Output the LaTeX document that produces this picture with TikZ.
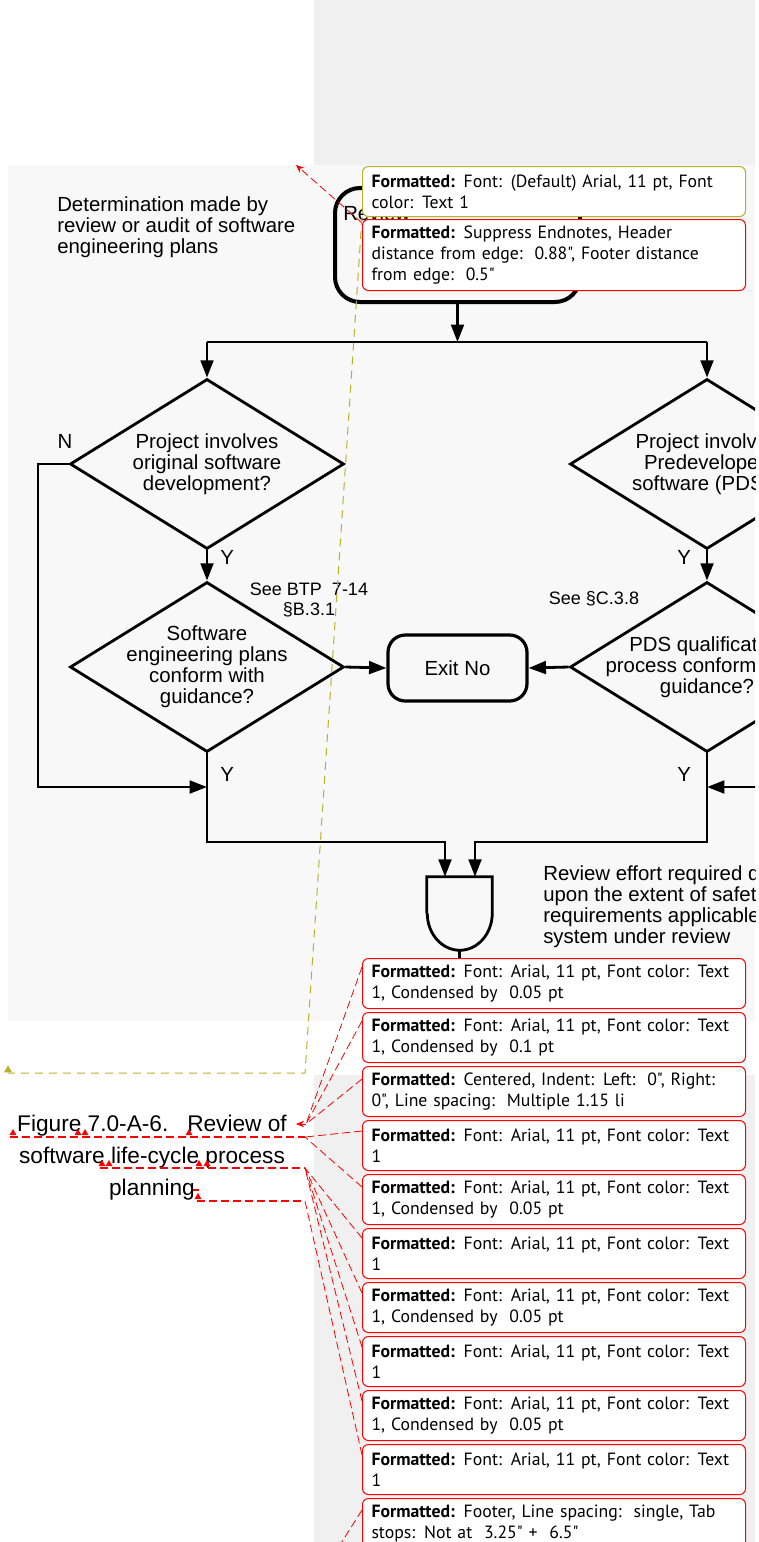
\documentclass[tikz,border=0pt]{standalone}
\usepackage{fontspec}
\setmainfont{Liberation Sans}
\newfontfamily\notefont{PT Sans}
\usetikzlibrary{shapes.geometric,positioning,arrows.meta,calc}
\definecolor{panegray}{RGB}{240,240,240}
\definecolor{figgray}{RGB}{248,248,248}
\definecolor{markred}{RGB}{255,0,0}
\definecolor{markolive}{RGB}{184,178,40}
\newcommand{\fmt}{\textbf{Formatted:} }

\begin{document}
\begin{tikzpicture}[x=0.75pt,y=-0.75pt,>={Triangle[length=13pt,width=9.5pt]},
		flow/.style={line width=2.1pt},
		decision/.style={draw,diamond,line width=2.1pt,inner sep=0pt,minimum width=205.5pt,minimum height=127.5pt},
		endbox/.style={draw,rounded corners=13pt,line width=2.4pt,inner sep=0pt},
		dtext/.style={font=\fontsize{15.3}{15.75}\selectfont,align=center,inner sep=0pt},
		note/.style={font=\fontsize{13.5}{15}\selectfont,align=center,inner sep=0pt},
		balloon/.style={draw=markred,fill=white,rounded corners=4.5pt,line width=0.75pt,minimum width=287.25pt,minimum height=37.5pt,text width=273.75pt,inner xsep=6.75pt,inner ysep=2pt,align=left,font=\notefont\fontsize{13.3}{15.75}\selectfont},
		redlink/.style={draw=markred,dash pattern=on 6pt off 3pt,line width=0.6pt},
		olivelink/.style={draw=markolive,dash pattern=on 6pt off 4.5pt,line width=0.75pt},
		insmark/.style={fill=markred,regular polygon,regular polygon sides=3,inner sep=0pt,minimum size=6pt}]
		\useasboundingbox (0,0) rectangle (759,1542);
		% page and markup pane
		\fill[panegray] (314,0) rectangle (755,165);
		\fill[panegray] (314,1075) rectangle (755,1542);
		\fill[figgray] (8,165) rectangle (755,1021);
		
		\begin{scope}
		\clip (8,165) rectangle (755,1021);
		\node[endbox,rounded corners=18.75pt,line width=3pt,minimum width=183.75pt,minimum height=85.5pt] (r_0) at (457.5,245) {};
		\node[dtext,anchor=base west] (r_0_t) at (343,220) {Review};
		\coordinate (j_0) at (457.5,342);
		
		\node[decision,label={[dtext]center:{Project involves\\original software\\development?}}] (d_1) at (207,464) {};
		\node[decision,label={[dtext]center:{Project involves\\Predeveloped\\software (PDS)?}}] (d_2) at (707,464) {};
		\node[decision,label={[dtext]center:{Software\\engineering plans\\conform with\\guidance?}}] (d_3) at (207,667) {};
		\node[decision,label={[dtext]center:{PDS qualification\\process conforms with\\guidance?}}] (d_4) at (707,667) {};
		\node[endbox,dtext,minimum width=104.25pt,minimum height=49.5pt] (x_0) at (457.5,668) {Exit No};
		\node[minimum width=48.75pt,minimum height=27pt,inner sep=0pt] (g_1) at (459.5,895) {};
		
		\node[dtext,align=left,anchor=north west] (t_det) at (57,196) {Determination made by\\review or audit of software\\engineering plans};
		\node[note] (t_btp) at (309,600) {See BTP\ \ 7-14\\\S B.3.1};
		\node[note] (t_c38) at (594,599) {See \S C.3.8};
		\node[dtext,align=left,anchor=north west] (t_eff) at (543,865) {Review effort required depends\\upon the extent of safety\\requirements applicable to the\\system under review};
		\node[dtext] (n_0) at (65,441) {N};
		
		\path[flow,->] (r_0) edge (j_0);
		\draw[flow] (j_0 -| d_1.north) -- (j_0 -| d_2.north);
		\draw[flow,->] (j_0 -| d_1.north) -- (d_1.north);
		\draw[flow,->] (j_0 -| d_2.north) -- (d_2.north);
		\draw[flow,->] (d_1.south) -- node[dtext,right=9pt,pos=0.25] (y_1) {Y} (d_3.north);
		\draw[flow,->] (d_2.south) -- node[dtext,left=11pt,pos=0.25] (y_2) {Y} (d_4.north);
		\coordinate (n_1) at (38,787);
		\draw[flow,->] (d_1.west) -| (n_1) -- (n_1 -| d_3.south);
		\draw[flow,->] (d_3.east) -- (x_0.west);
		\draw[flow,->] (d_4.west) -- (x_0.east);
		\coordinate (e_1) at (762,787);
		\draw[flow,->] (e_1) -- (e_1 -| d_4.south);
		\coordinate (k_1) at (445,842);
		\coordinate (k_2) at (475,842);
		\draw[flow,->] (d_3.south) |- node[dtext,right=9pt,pos=0.12] (y_3) {Y} (k_1) -- (k_1 |- g_1.north);
		\draw[flow,->] (d_4.south) |- node[dtext,left=11pt,pos=0.12] (y_4) {Y} (k_2) -- (k_2 |- g_1.north);
		% and gate
		\draw[flow] (g_1.south west) -- (g_1.north west) -- (g_1.north east) -- (g_1.south east) arc[start angle=0,end angle=-180,x radius=24.375pt,y radius=27.75pt];
		\coordinate (g_o) at (459.5,950);
		\draw[flow] (g_o) -- ++(0,12);
		\end{scope}
		
		% caption
		\node[font=\fontsize{17}{24}\selectfont,align=center,inner sep=0pt] (cap) at (152,1158) {Figure 7.0-A-6.\ \ \ Review of\\software life-cycle process\\planning};
		\coordinate (u_1) at (10,1137);
		\coordinate (u_2) at (100,1168);
		\coordinate (u_3) at (197,1201);
		\coordinate (c_1) at (305,1137);
		\coordinate (c_2) at (305,1168);
		\coordinate (c_3) at (305,1201);
		\draw[redlink,line width=1.1pt] (u_1) -- (c_1);
		\draw[redlink,line width=1.1pt] (u_2) -- (c_2);
		\draw[redlink,line width=1.1pt] (u_3) -- (c_3);
		\draw[markred,line width=1.2pt] (193,1190) -- (199,1190);
		\node[insmark] (m_1) at (13,1133) {};
		\node[insmark] (m_2) at (78,1133) {};
		\node[insmark] (m_3) at (85,1133) {};
		\node[insmark] (m_4) at (189,1133) {};
		\node[insmark] (m_5) at (102,1164) {};
		\node[insmark] (m_6) at (109,1164) {};
		\node[insmark] (m_7) at (199,1164) {};
		\node[insmark] (m_8) at (207,1164) {};
		\node[insmark] (m_9) at (198,1197) {};
		
		% balloons
		\node[balloon,draw=markolive,anchor=north west] (b_1) at (362,166) {\fmt Font: (Default) Arial, 11 pt, Font\\color: Text 1};
		\node[balloon,anchor=north west,minimum height=53.25pt] (b_2) at (362,219) {\fmt Suppress Endnotes, Header\\distance from edge:\ \ 0.88", Footer distance\\from edge:\ \ 0.5"};
		\node[balloon,anchor=north west] (b_3) at (362,958) {\fmt Font: Arial, 11 pt, Font color: Text\\1, Condensed by\ \ 0.05 pt};
		\node[balloon,below=2.25pt of b_3] (b_4) {\fmt Font: Arial, 11 pt, Font color: Text\\1, Condensed by\ \ 0.1 pt};
		\node[balloon,below=2.25pt of b_4] (b_5) {\fmt Centered, Indent: Left:\ \ 0", Right:\\0", Line spacing:\ \ Multiple 1.15 li};
		\node[balloon,below=2.25pt of b_5] (b_6) {\fmt Font: Arial, 11 pt, Font color: Text\\1};
		\node[balloon,below=2.25pt of b_6] (b_7) {\fmt Font: Arial, 11 pt, Font color: Text\\1, Condensed by\ \ 0.05 pt};
		\node[balloon,below=2.25pt of b_7] (b_8) {\fmt Font: Arial, 11 pt, Font color: Text\\1};
		\node[balloon,below=2.25pt of b_8] (b_9) {\fmt Font: Arial, 11 pt, Font color: Text\\1, Condensed by\ \ 0.05 pt};
		\node[balloon,below=2.25pt of b_9] (b_10) {\fmt Font: Arial, 11 pt, Font color: Text\\1};
		\node[balloon,below=2.25pt of b_10] (b_11) {\fmt Font: Arial, 11 pt, Font color: Text\\1, Condensed by\ \ 0.05 pt};
		\node[balloon,below=2.25pt of b_11] (b_12) {\fmt Font: Arial, 11 pt, Font color: Text\\1};
		\node[balloon,below=2.25pt of b_12] (b_13) {\fmt Footer, Line spacing:\ \ single, Tab\\stops: Not at\ \ 3.25" +\ \ 6.5"};
		
		% markup links
		\coordinate (a_1) at (296,165);
		\draw[redlink,-{Stealth[length=6pt,width=5pt]}] ($(b_2.north west)+(0,4)$) -- (a_1);
		\coordinate (o_1) at (305,1073);
		\coordinate (o_2) at (8,1073);
		\draw[olivelink] (b_1.south west) -- (o_1) -- (o_2);
		\node[fill=markolive,regular polygon,regular polygon sides=3,inner sep=0pt,minimum size=7pt] (o_m) at (8,1070) {};
		\coordinate (a_2) at (296,1124);
		\coordinate (a_3) at (306,1124);
		\draw[redlink,-{Stealth[length=6pt,width=5pt]}] (a_3) -- (a_2);
		\draw[redlink] ($(b_3.north west)+(0,9)$) -- (a_3);
		\draw[redlink] ($(b_4.north west)+(0,9)$) -- (a_3);
		\draw[redlink] ($(b_5.north west)+(0,13)$) -- (a_3);
		\draw[redlink] ($(b_6.north west)+(0,11)$) -- (c_1);
		\draw[redlink] ($(b_7.north west)+(0,13)$) -- (c_1);
		\draw[redlink] ($(b_8.north west)+(0,10)$) -- (c_2);
		\draw[redlink] ($(b_9.north west)+(0,11)$) -- (c_2);
		\draw[redlink] ($(b_10.north west)+(0,11)$) -- (c_2);
		\draw[redlink] ($(b_11.north west)+(0,11)$) -- (c_2);
		\draw[redlink] ($(b_12.north west)+(0,11)$) -- (c_3);
		\coordinate (f_1) at (338,1548);
		\draw[redlink] ($(b_13.north west)+(0,12)$) -- (f_1);
		\end{tikzpicture}
\end{document}
